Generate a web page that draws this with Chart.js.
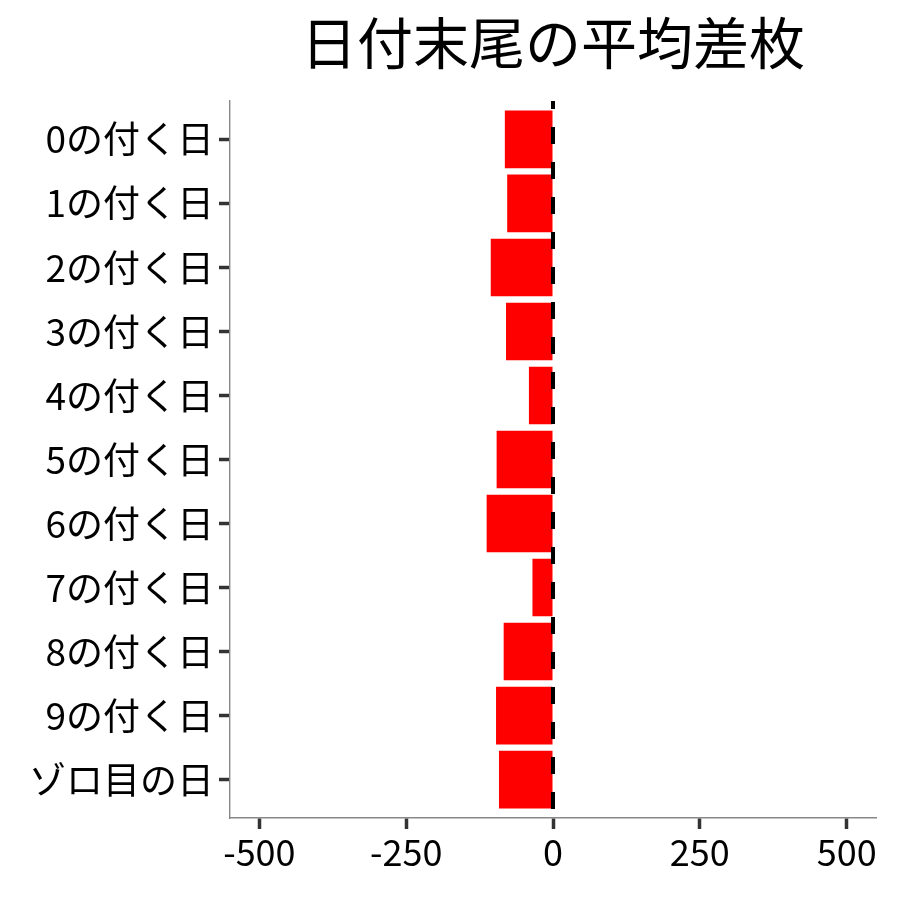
<!DOCTYPE html>
<html>
<head>
<meta charset="utf-8">
<script src="https://cdn.jsdelivr.net/npm/chart.js@4/dist/chart.umd.min.js"></script>
<style>
  html, body { margin: 0; padding: 0; background: #fff; }
  #wrap { width: 900px; height: 900px; }
</style>
</head>
<body>
<div id="wrap"><canvas id="chart" width="900" height="900"></canvas></div>
<script>
const titleText = '日付末尾の平均差枚';
const categories = ['0の付く日', '1の付く日', '2の付く日', '3の付く日', '4の付く日', '5の付く日',
  '6の付く日', '7の付く日', '8の付く日', '9の付く日', 'ゾロ目の日'];
const avgDiff = [-82, -78, -106, -80, -41, -96, -113, -35, -84, -97, -92];
const xTicks = [-500, -250, 0, 250, 500];

const FONT = '"Noto Sans CJK JP", "Noto Sans", sans-serif';

// title centred over the panel, like the original
const titlePlugin = {
  id: 'panelTitle',
  afterDraw: chart => {
    const { ctx, chartArea } = chart;
    ctx.save();
    ctx.font = '56px ' + FONT;
    ctx.fillStyle = '#000';
    ctx.textAlign = 'center';
    ctx.textBaseline = 'middle';
    ctx.fillText(titleText, (chartArea.left + chartArea.right) / 2, 43);
    ctx.restore();
  }
};

// dashed reference line at zero
const zeroLine = {
  id: 'zeroLine',
  afterDatasetsDraw: chart => {
    const { ctx, chartArea, scales } = chart;
    const x = scales.x.getPixelForValue(0);
    ctx.save();
    ctx.strokeStyle = '#000';
    ctx.lineWidth = 4;
    ctx.setLineDash([17, 18]);
    ctx.lineDashOffset = 9;
    ctx.beginPath();
    ctx.moveTo(x, chartArea.top);
    ctx.lineTo(x, chartArea.bottom);
    ctx.stroke();
    ctx.restore();
  }
};

const ctx = document.getElementById('chart').getContext('2d');
new Chart(ctx, {
  type: 'bar',
  data: {
    datasets: [{
      label: titleText,
      data: avgDiff.map((v, i) => ({ x: v, y: i })),
      backgroundColor: '#ff0000',
      borderWidth: 0,
      barPercentage: 0.9,
      categoryPercentage: 1.0
    }]
  },
  options: {
    indexAxis: 'y',
    responsive: false,
    devicePixelRatio: 1,
    animation: false,
    layout: { padding: { top: 101, right: 24, left: 0, bottom: 0 } },
    plugins: {
      legend: { display: false },
      title: { display: false },
      tooltip: { enabled: true }
    },
    scales: {
      x: {
        type: 'linear',
        min: -550,
        max: 550,
        afterBuildTicks: axis => { axis.ticks = xTicks.map(v => ({ value: v })); },
        afterFit: scale => { scale.height = 82; },
        border: { display: true, color: '#888', width: 1.4 },
        grid: { drawOnChartArea: false, drawTicks: true, tickLength: 11, tickColor: '#333', tickWidth: 3.5 },
        ticks: { color: '#000', font: { family: FONT, size: 36 }, padding: 2, maxRotation: 0 }
      },
      y: {
        type: 'linear',
        reverse: true,
        offset: false,
        min: -0.6,
        max: 10.6,
        afterBuildTicks: axis => { axis.ticks = categories.map((c, i) => ({ value: i })); },
        afterFit: scale => { scale.width = 230; },
        border: { display: true, color: '#888', width: 1.4 },
        grid: { offset: false, drawOnChartArea: false, drawTicks: true, tickLength: 11, tickColor: '#333', tickWidth: 3.5 },
        ticks: {
          color: '#000',
          font: { family: FONT, size: 37 },
          padding: 5,
          autoSkip: false,
          callback: value => categories[value]
        }
      }
    }
  },
  plugins: [zeroLine, titlePlugin]
});
</script>
</body>
</html>
